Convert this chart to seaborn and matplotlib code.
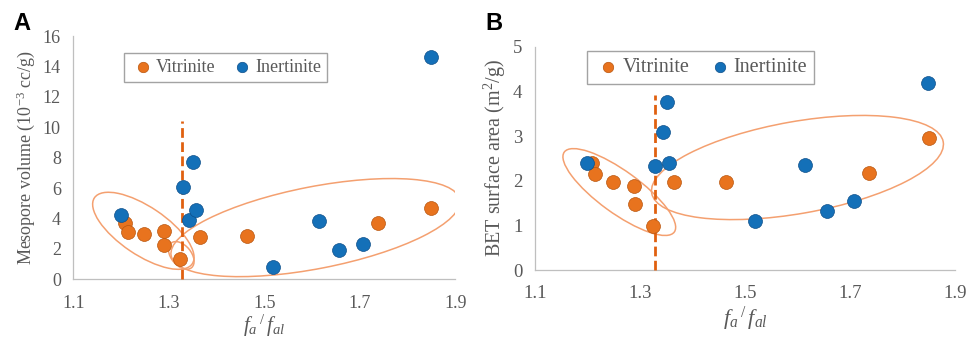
import numpy as np
import pandas as pd
import matplotlib
matplotlib.use("Agg")
import matplotlib.pyplot as plt
import matplotlib.transforms as mtransforms
from matplotlib.patches import Ellipse
import seaborn as sns

# ---------------- data ----------------
vit_x = [1.208, 1.214, 1.249, 1.289, 1.290, 1.324, 1.365, 1.463, 1.737, 1.850]
ine_x = [1.200, 1.329, 1.343, 1.351, 1.356, 1.519, 1.615, 1.657, 1.707, 1.848]

vit_meso = [3.72, 3.09, 2.98, 3.20, 2.26, 1.34, 2.78, 2.85, 3.70, 4.67]
ine_meso = [4.23, 6.05, 3.90, 7.70, 4.56, 0.83, 3.84, 1.95, 2.34, 14.6]

vit_bet = [2.39, 2.16, 1.98, 1.87, 1.47, 0.99, 1.98, 1.96, 2.18, 2.96]
ine_bet = [2.40, 2.34, 3.08, 3.77, 2.40, 1.10, 2.35, 1.33, 1.55, 4.19]

groups = ["Vitrinite", "Inertinite"]
x_ticks = [1.1, 1.3, 1.5, 1.7, 1.9]
yticks_a = [0, 2, 4, 6, 8, 10, 12, 14, 16]
yticks_b = [0, 1, 2, 3, 4, 5]

threshold_x = 1.328
threshold_top_a = 10.4
threshold_top_b = 3.92

# ---------------- style ----------------
sns.set_style("white")
plt.rcParams["font.family"] = ["Liberation Serif", "DejaVu Serif"]
plt.rcParams["mathtext.fontset"] = "custom"
plt.rcParams["mathtext.it"] = "Liberation Serif:italic"
plt.rcParams["mathtext.rm"] = "Liberation Serif"

palette = {"Vitrinite": "#E8731E", "Inertinite": "#1470B8"}
edges = {"Vitrinite": "#B9560F", "Inertinite": "#0D4F8A"}
gray_text = "#595959"
spine_col = "#BFBFBF"
dash_col = "#E0600F"
ell_col = "#F4A070"

fig = plt.figure(figsize=(9.69, 3.39), dpi=100)
axA = fig.add_axes([0.0757, 0.1761, 0.3942, 0.7177])
axB = fig.add_axes([0.5521, 0.2035, 0.4334, 0.6587])


def make_df(yv, yi):
    return pd.DataFrame({
        "x": vit_x + ine_x,
        "y": yv + yi,
        "group": [groups[0]] * len(vit_x) + [groups[1]] * len(ine_x),
    })


def draw_panel(ax, df, ylim, yticks, ylabel, top, tick_fs, lab_fs, xlab_fs,
               leg_fs, leg_anchor, letter, letter_x, ellipses, xlabpad):
    for g in groups:
        sub = df[df["group"] == g]
        sns.scatterplot(data=sub, x="x", y="y", ax=ax, color=palette[g],
                        edgecolor=edges[g], linewidth=0.5, s=100, zorder=4,
                        label=g)
    ax.plot([threshold_x, threshold_x], [0, top], color=dash_col, lw=2.0,
            ls=(0, (3.5, 1.6)), zorder=3, clip_on=False)
    for (cx, cy, a, b, ang) in ellipses:
        tr = mtransforms.ScaledTranslation(cx, cy, ax.transData)
        e = Ellipse((0, 0), 2 * a, 2 * b, angle=ang, fill=False,
                    edgecolor=ell_col, lw=1.1, transform=tr, zorder=2)
        ax.add_patch(e)
    ax.set_xlim(1.1, 1.9)
    ax.set_ylim(*ylim)
    ax.set_xticks(x_ticks)
    ax.set_xticklabels([f"{t:.1f}" for t in x_ticks])
    ax.set_yticks(yticks)
    ax.set_yticklabels([str(t) for t in yticks])
    for s in ["top", "right"]:
        ax.spines[s].set_visible(False)
    for s in ["left", "bottom"]:
        ax.spines[s].set_color(spine_col)
        ax.spines[s].set_linewidth(0.9)
    ax.tick_params(axis="both", direction="out", length=4, width=0.9,
                   color=spine_col, labelcolor=gray_text, labelsize=tick_fs)
    ax.tick_params(axis="y", pad=5)
    ax.tick_params(axis="x", pad=7)
    ax.set_ylabel(ylabel, fontsize=lab_fs, color=gray_text, labelpad=4)
    ax.set_xlabel(r"$f_a\,^/\,f_{al}$", fontsize=xlab_fs, color=gray_text,
                  labelpad=xlabpad)
    leg = ax.legend(loc="upper left", bbox_to_anchor=leg_anchor, ncol=2,
                    fontsize=leg_fs, frameon=True, fancybox=False,
                    borderaxespad=0, handletextpad=0.0, columnspacing=0.8,
                    markerscale=0.75, borderpad=0.35, handlelength=1.4)
    frame = leg.get_frame()
    frame.set_edgecolor("#8C8C8C")
    frame.set_linewidth(1.0)
    for t in leg.get_texts():
        t.set_color(gray_text)
    fig.text(letter_x, 1 - 30 / 339, letter, fontsize=17, fontweight="bold",
             family="Liberation Sans", color="black", va="baseline")


ellA = [
    (1.2466, 3.19, 59, 24, -34),
    (1.326, 1.57, 16, 10, -50),
    (1.607, 3.40, 147, 41, 11),
]
ellB = [
    (1.2606, 1.746, 68, 21, -36),
    (1.600, 2.295, 148, 46, 10),
]

draw_panel(axA, make_df(vit_meso, ine_meso), (0, 16), yticks_a,
           r"Mesopore volume (10$^{-3}$ cc/g)", threshold_top_a,
           13.0, 13.0, 15.0, 13.0, (0.133, 0.931), "A", 13 / 969, ellA, 1)
draw_panel(axB, make_df(vit_bet, ine_bet), (0, 5), yticks_b,
           r"BET surface area (m$^{2}$/g)", threshold_top_b,
           13.5, 14.5, 16.0, 14.5, (0.1245, 0.981), "B", 485 / 969, ellB, 2)

fig.savefig("out.png", dpi=100)
